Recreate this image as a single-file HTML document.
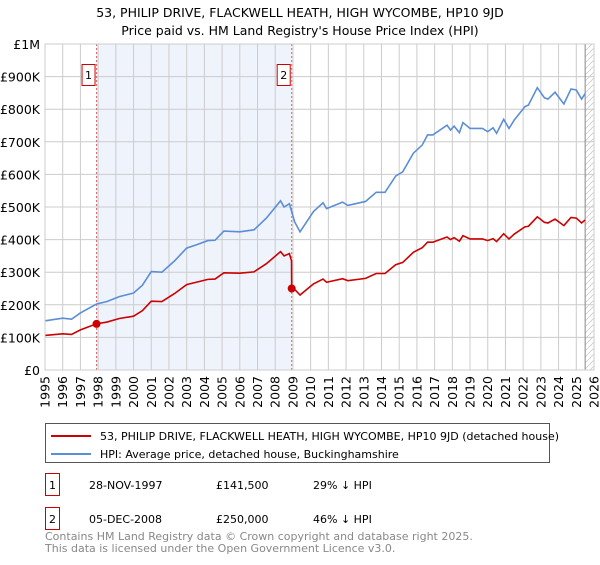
<!DOCTYPE html>
<html><head><meta charset="utf-8"><style>
body{margin:0;background:#fff;width:600px;height:560px;overflow:hidden;font-family:"Liberation Sans","DejaVu Sans",sans-serif}
svg text{font-family:"DejaVu Sans","Liberation Sans",sans-serif}
</style></head><body>
<svg id="c" width="600" height="560" viewBox="0 0 600 560">
<defs><pattern id="hatch" width="6" height="6" patternUnits="userSpaceOnUse"><path d="M0 6L6 0" stroke="#ccc" stroke-width="0.8"/></pattern></defs>
<text x="300" y="17" text-anchor="middle" font-size="12.5" fill="#000">53, PHILIP DRIVE, FLACKWELL HEATH, HIGH WYCOMBE, HP10 9JD</text>
<text x="300" y="35" text-anchor="middle" font-size="12.5" fill="#000">Price paid vs. HM Land Registry's House Price Index (HPI)</text>
<g id="plot"></g>
<rect x="45.5" y="423.5" width="504" height="39" fill="#fff" stroke="#555"/>
<line x1="51" y1="436" x2="91" y2="436" stroke="#cc0000" stroke-width="2"/>
<text x="100" y="440" font-size="11">53, PHILIP DRIVE, FLACKWELL HEATH, HIGH WYCOMBE, HP10 9JD (detached house)</text>
<line x1="51" y1="454" x2="91" y2="454" stroke="#5b8ed6" stroke-width="2"/>
<text x="100" y="458" font-size="11">HPI: Average price, detached house, Buckinghamshire</text>
<g>
<rect x="45.5" y="473.5" width="14" height="22" fill="#fff" stroke="#cc0000"/>
<text x="52.5" y="489" text-anchor="middle" font-size="11">1</text>
<text x="89" y="489" font-size="11">28-NOV-1997</text>
<text x="216" y="489" font-size="11">£141,500</text>
<text x="313" y="489" font-size="11">29% ↓ HPI</text></g>
<g>
<rect x="45.5" y="507.5" width="14" height="22" fill="#fff" stroke="#cc0000"/>
<text x="52.5" y="523" text-anchor="middle" font-size="11">2</text>
<text x="89" y="523" font-size="11">05-DEC-2008</text>
<text x="216" y="523" font-size="11">£250,000</text>
<text x="313" y="523" font-size="11">46% ↓ HPI</text></g>
<text x="45" y="540" font-size="11" fill="#888">Contains HM Land Registry data © Crown copyright and database right 2025.</text>
<text x="45" y="552" font-size="11" fill="#888">This data is licensed under the Open Government Licence v3.0.</text>
</svg>
<script>
const yTicks=[0,100,200,300,400,500,600,700,800,900,1000];
const yTickLabels=["£0","£100K","£200K","£300K","£400K","£500K","£600K","£700K","£800K","£900K","£1M"];
const xYears=[1995,1996,1997,1998,1999,2000,2001,2002,2003,2004,2005,2006,2007,2008,2009,2010,2011,2012,2013,2014,2015,2016,2017,2018,2019,2020,2021,2022,2023,2024,2025,2026];
const hpiDates=[1995.0,1996.0,1996.5,1997.0,1997.9,1998.5,1999.2,2000.0,2000.5,2001.0,2001.6,2002.3,2003.0,2003.6,2004.2,2004.6,2005.1,2006.0,2006.8,2007.5,2008.3,2008.5,2008.8,2009.1,2009.4,2010.16,2010.7,2010.9,2011.8,2012.1,2013.1,2013.7,2014.2,2014.8,2015.2,2015.8,2016.3,2016.6,2016.9,2017.7,2017.9,2018.1,2018.4,2018.6,2019.0,2019.7,2020.0,2020.3,2020.5,2020.9,2021.2,2021.5,2022.1,2022.3,2022.8,2023.2,2023.4,2023.8,2024.3,2024.7,2025.0,2025.3,2025.5];
const hpiValues=[151,159,156,175,202,210,225,236,260,302,300,334,374,385,397,398,426,424,430,466,519,500,510,454,424,486,513,495,515,505,517,545,545,595,608,665,690,721,721,751,736,748,728,759,741,741,731,743,726,769,741,767,808,813,866,835,831,852,816,862,859,831,848];
const propDates=[1995.0,1996.0,1996.5,1997.0,1997.9,1998.5,1999.2,2000.0,2000.5,2001.0,2001.6,2002.3,2003.0,2003.6,2004.2,2004.6,2005.1,2006.0,2006.8,2007.5,2008.3,2008.5,2008.8,2008.92,2008.93,2009.1,2009.4,2010.16,2010.7,2010.9,2011.8,2012.1,2013.1,2013.7,2014.2,2014.8,2015.2,2015.8,2016.3,2016.6,2016.9,2017.7,2017.9,2018.1,2018.4,2018.6,2019.0,2019.7,2020.0,2020.3,2020.5,2020.9,2021.2,2021.5,2022.1,2022.3,2022.8,2023.2,2023.4,2023.8,2024.3,2024.7,2025.0,2025.3,2025.5];
const propValues=[106,111,109,123,141.5,147,158,165,182,211,210,234,262,270,278,279,298,297,301,326,363,350,357,335,250,247,230,264,279,269,280,274,281,296,296,323,330,361,375,392,392,408,400,406,395,412,402,402,397,403,394,418,402,417,439,441,470,453,451,463,443,468,466,451,460];
const saleDates=[1997.91,2008.93];
const saleValues=[141.5,250];
const saleLabels=["1","2"];

const X0=45,X1=594,Y0=370,Y1=44;
const xs=t=>X0+(t-1995)/(2026-1995)*(X1-X0);
const ys=v=>Y0-v/1000*(Y0-Y1);
const NS="http://www.w3.org/2000/svg";
const g=document.getElementById('plot');
function mk(tag,attrs,parent){const e=document.createElementNS(NS,tag);for(const k in attrs)e.setAttribute(k,attrs[k]);(parent||g).appendChild(e);return e;}
let e;
e=mk('rect',{x:xs(saleDates[0]),y:Y1,width:xs(saleDates[1])-xs(saleDates[0]),height:Y0-Y1,fill:'#eef3fc'});


e=mk('rect',{x:xs(2025.5),y:Y1,width:X1-xs(2025.5),height:Y0-Y1,fill:'url(#hatch)'});


yTicks.forEach((v,i)=>{
 e=mk('line',{x1:X0,x2:X1,y1:ys(v),y2:ys(v),stroke:'#ccc','stroke-width':1});
 
 
 e=mk('text',{x:X0-5,y:ys(v)+5,'text-anchor':'end','font-size':12.5});
 e.textContent=yTickLabels[i];
 
 
});
xYears.forEach(yr=>{
 e=mk('line',{x1:xs(yr),x2:xs(yr),y1:Y1,y2:Y0,stroke:'#ccc','stroke-width':1});
 
 
 e=mk('text',{x:0,y:0,'text-anchor':'end','font-size':12.5,transform:`translate(${xs(yr)+4.5},${Y0+6}) rotate(-90)`});
 e.textContent=yr;
 
 
});
e=mk('line',{x1:xs(2025.5),x2:xs(2025.5),y1:Y1,y2:Y0,stroke:'#888','stroke-width':1});


saleDates.forEach((d,i)=>{
 e=mk('line',{x1:xs(d),x2:xs(d),y1:Y1,y2:Y0,stroke:'#e06666','stroke-width':1,'stroke-dasharray':'2,2'});
 
 
 e=mk('rect',{x:xs(d)-14.5,y:64.5,width:13,height:21,fill:'#fff',stroke:'#cc0000'});
 
 
 e=mk('text',{x:xs(d)-8,y:79,'text-anchor':'middle','font-size':11});
 e.textContent=saleLabels[i];
 
 
});
e=mk('polyline',{points:hpiDates.map((d,i)=>xs(d)+','+ys(hpiValues[i])).join(' '),fill:'none',stroke:'#5b8ed6','stroke-width':1.6});


e=mk('polyline',{points:propDates.map((d,i)=>xs(d)+','+ys(propValues[i])).join(' '),fill:'none',stroke:'#cc0000','stroke-width':1.6});


saleDates.forEach((d,i)=>{
 e=mk('circle',{cx:xs(d),cy:ys(saleValues[i]),r:4,fill:'#cc0000'});
 
 
});
e=mk('rect',{x:X0,y:Y1,width:X1-X0,height:Y0-Y1,fill:'none',stroke:'#ccc'});


</script>
</body></html>
